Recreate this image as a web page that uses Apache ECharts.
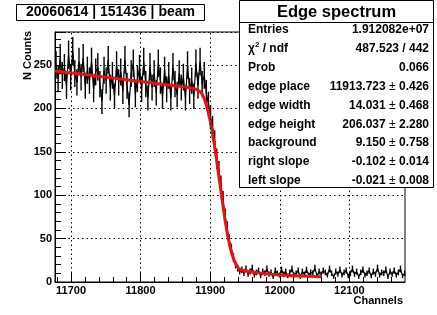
<!DOCTYPE html>
<html>
<head>
<meta charset="utf-8">
<script src="https://cdn.jsdelivr.net/npm/echarts@6/dist/echarts.min.js"></script>
<style>
  html, body { margin: 0; padding: 0; background: #fff; }
  #main { width: 437px; height: 315px; }
</style>
</head>
<body>
<div id="main"></div>
<script>
// histogram: 3 channels per bin starting at channel 11677
const binStart = 11677;
const binWidth = 3;
const counts = [
  250, 234, 258, 238, 247, 226, 262, 236, 266, 240,
  230, 254, 236, 258, 226, 244, 232, 254, 222, 242,
  248, 228, 208, 244, 232, 256, 224, 238, 214, 250,
  230, 242, 220, 256, 226, 204, 240, 252, 216, 234,
  246, 222, 254, 228, 212, 248, 224, 240, 218, 252,
  232, 214, 244, 222, 238, 212, 248, 228, 216, 240,
  224, 236, 212, 250, 220, 232, 214, 252, 226, 254,
  228, 238, 218,
  205, 190, 178, 162, 142, 128, 112, 95, 76, 62, 48, 38, 28, 20, 16, 12,
  14, 10, 15, 9, 12, 16, 8, 11, 13, 7, 12, 10, 15, 9, 11, 6, 13, 10, 8, 14,
  9, 12, 7, 11, 15, 8, 10, 13, 6, 12, 9, 14, 8, 11, 10, 16, 7, 12, 9, 13,
  11, 8, 15, 10, 6, 12, 9, 14, 8, 11, 13, 7, 10, 15, 9, 12, 6, 11, 14, 8,
  10, 13, 7, 12, 9, 16, 8, 11, 10, 14, 6, 12, 9, 13, 8, 11, 15, 7, 10
];

// edge fit curve
const fitChannels = [11677, 11720, 11760, 11800, 11840, 11870, 11880, 11886, 11890, 11894,
  11898, 11902, 11906, 11910, 11914, 11918, 11922, 11926, 11930, 11934,
  11938, 11942, 11950, 11970, 12000, 12030, 12060];
const fitValues = [243, 239, 235, 231, 227, 224, 222, 219, 214, 205,
  193, 177, 158, 136, 113, 90, 68, 50, 36, 26,
  19, 15, 13, 10.5, 8, 7, 6];

const xTicks = [11700, 11800, 11900, 12000, 12100];
const xMinorTicks = [11680, 11700, 11720, 11740, 11760, 11780, 11800, 11820, 11840, 11860,
  11880, 11900, 11920, 11940, 11960, 11980, 12000, 12020, 12040, 12060,
  12080, 12100, 12120, 12140, 12160];

const statNames = ['Entries', 'χ2 / ndf', 'Prob', 'edge place', 'edge width', 'edge height', 'background', 'right slope', 'left slope'];
const statValues = ['1.912082e+07', '487.523 / 442', '0.066', '11913.723', '14.031', '206.037', '9.150', '-0.102', '-0.021'];
const statErrors = ['', '', '', '0.426', '0.468', '2.280', '0.758', '0.014', '0.008'];

const FONT = '"Liberation Sans", Arial, Helvetica, sans-serif';

const histData = counts.map((c, i) => [binStart + binWidth * i + binWidth / 2, c]);
// poisson error bars, sqrt(N)
const errData = counts.map((c, i) => [binStart + binWidth * i + binWidth / 2, c - Math.sqrt(c), c + Math.sqrt(c)]);
const fitData = fitChannels.map((c, i) => [c, fitValues[i]]);

const chart = echarts.init(document.getElementById('main'), null, { renderer: 'canvas' });

// stats box contents
const statEls = [];
statNames.forEach((name, k) => {
  const y = 29.5 + 18.94 * k;
  let nameText = '{b|' + name + '}';
  if (name === 'χ2 / ndf') nameText = '{b|χ}{s|2}{b| / ndf}';
  statEls.push({
    type: 'text', z: 101,
    style: {
      x: 248, y: y, text: nameText,
      align: 'left', verticalAlign: 'middle',
      rich: {
        b: { font: 'bold 12px ' + FONT, fill: '#000' },
        s: { font: 'bold 8px ' + FONT, fill: '#000', padding: [0, 0, 8, 0] }
      }
    }
  });
  const valText = statErrors[k] ? '{b|' + statValues[k] + '}{n| ± }{b|' + statErrors[k] + '}' : '{b|' + statValues[k] + '}';
  statEls.push({
    type: 'text', z: 101,
    style: {
      x: 429, y: y, text: valText,
      align: 'right', verticalAlign: 'middle',
      rich: {
        b: { font: 'bold 12px ' + FONT, fill: '#000' },
        n: { font: '12px ' + FONT, fill: '#000' }
      }
    }
  });
});

const option = {
  animation: false,
  backgroundColor: '#fff',
  grid: {
    left: 55, right: 32, top: 32, bottom: 33,
    show: true, borderColor: '#000', borderWidth: 1, backgroundColor: 'transparent'
  },
  xAxis: [{
    type: 'value', min: 11677, max: 12180,
    axisLine: { show: true, lineStyle: { color: '#000', width: 1 } },
    axisTick: { show: true, inside: true, length: 10, customValues: xTicks, lineStyle: { color: '#000' } },
    axisLabel: {
      customValues: xTicks, color: '#000', fontFamily: FONT, fontWeight: 'bold', fontSize: 11, margin: 3,
      formatter: v => String(v)
    },
    splitLine: { show: false }
  }, {
    type: 'value', min: 11677, max: 12180, position: 'bottom',
    axisLine: { show: false },
    axisTick: { show: true, inside: true, length: 5, customValues: xMinorTicks, lineStyle: { color: '#000' } },
    axisLabel: { show: false },
    splitLine: { show: false }
  }],
  yAxis: {
    type: 'value', min: 0, max: 288, interval: 50,
    axisLine: { show: true, lineStyle: { color: '#000', width: 1 } },
    axisTick: { show: true, inside: true, length: 11, lineStyle: { color: '#000' } },
    minorTick: { show: true, splitNumber: 5, length: 6, lineStyle: { color: '#000' } },
    axisLabel: {
      color: '#000', fontFamily: FONT, fontWeight: 'bold', fontSize: 11, margin: 3,
      showMaxLabel: false
    },
    splitLine: { show: true, lineStyle: { color: '#000', type: [1.5, 3], width: 1 } }
  },
  series: [{
    type: 'line', name: 'data', data: histData,
    showSymbol: false, symbol: 'none',
    lineStyle: { color: '#000', width: 1.2 },
    z: 3,
    markLine: {
      silent: true, symbol: 'none', label: { show: false },
      lineStyle: { color: '#000', type: [1.5, 3], width: 1 },
      data: xTicks.map(v => ({ xAxis: v }))
    }
  }, {
    type: 'custom', name: 'errors', data: errData, z: 3,
    renderItem: (params, api) => {
      const p1 = api.coord([api.value(0), api.value(1)]);
      const p2 = api.coord([api.value(0), api.value(2)]);
      return {
        type: 'line',
        shape: { x1: p1[0], y1: p1[1], x2: p2[0], y2: p2[1] },
        style: { stroke: '#000', lineWidth: 1.4 }
      };
    }
  }, {
    type: 'line', name: 'fit', data: fitData, smooth: 0.3,
    showSymbol: false, symbol: 'none',
    lineStyle: { color: '#ee1111', width: 3 },
    z: 4
  }],
  graphic: [
    // run title box
    {
      type: 'rect', z: 100,
      shape: { x: 16.5, y: 4.5, width: 188, height: 16 },
      style: { fill: '#fff', stroke: '#000', lineWidth: 1 }
    },
    {
      type: 'text', z: 101,
      style: {
        x: 110.5, y: 12.5, text: '20060614 | 151436 | beam',
        font: 'bold 14px ' + FONT, fill: '#000', align: 'center', verticalAlign: 'middle'
      }
    },
    // stats box
    {
      type: 'rect', z: 100,
      shape: { x: 239.5, y: 0.5, width: 194, height: 187 },
      style: { fill: '#fff', stroke: '#000', lineWidth: 1 }
    },
    {
      type: 'line', z: 101,
      shape: { x1: 239.5, y1: 22.5, x2: 433.5, y2: 22.5 },
      style: { stroke: '#000', lineWidth: 1 }
    },
    {
      type: 'text', z: 101,
      style: {
        x: 336.5, y: 12, text: 'Edge spectrum',
        font: 'bold 16.5px ' + FONT, fill: '#000', align: 'center', verticalAlign: 'middle'
      }
    },
    ...statEls,
    // axis titles
    {
      type: 'text', z: 101,
      style: {
        x: 403, y: 301, text: 'Channels',
        font: 'bold 11px ' + FONT, fill: '#000', align: 'right', verticalAlign: 'middle'
      }
    },
    {
      type: 'text', z: 101, x: 28, y: 31, rotation: Math.PI / 2,
      style: {
        x: 0, y: 0, text: 'N Counts',
        font: 'bold 11px ' + FONT, fill: '#000', align: 'right', verticalAlign: 'middle'
      }
    }
  ]
};

chart.setOption(option);
</script>
</body>
</html>
